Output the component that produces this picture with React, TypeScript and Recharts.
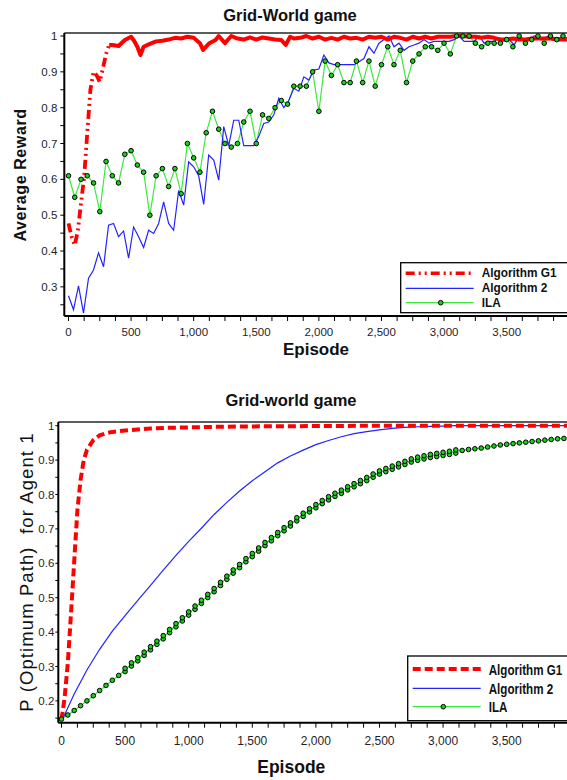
import React from 'react'
import { LineChart, Line, XAxis, YAxis, ReferenceLine } from 'recharts'

// ---- top chart: average reward per episode ----
const g1TopEpisodes = [
  0, 25, 50, 75, 100, 125, 150, 175, 200, 225, 250, 275, 300, 325, 350, 400, 450, 500, 525, 550,
  575, 600, 650, 700, 750, 800, 850, 900, 950, 1000, 1050, 1075, 1125, 1175, 1200, 1250, 1300, 1350,
  1400, 1450, 1500, 1550, 1600, 1650, 1700, 1735, 1770, 1800, 1850, 1900, 1950, 2000, 2050, 2100,
  2150, 2200, 2250, 2300, 2350, 2400, 2450, 2500, 2550, 2600, 2650, 2700, 2750, 2800, 2850, 2900,
  2950, 3000, 3050, 3100, 3150, 3200, 3250, 3300, 3350, 3400, 3450, 3500, 3550, 3600, 3650, 3700,
  3750, 3800, 3850, 3900, 3950, 4000,
]
const g1TopReward = [
  0.477, 0.44, 0.416, 0.458, 0.533, 0.607, 0.73, 0.85, 0.9, 0.89, 0.872, 0.91, 0.95, 0.975, 0.975,
  0.972, 0.989, 0.998, 0.986, 0.97, 0.947, 0.97, 0.978, 0.985, 0.987, 0.99, 0.995, 0.993, 0.998,
  0.995, 0.98, 0.961, 0.98, 0.989, 1.0, 0.98, 1.0, 0.993, 0.99, 0.996, 0.99, 0.996, 0.993, 0.99,
  0.989, 0.975, 0.998, 0.993, 0.995, 1.0, 0.993, 0.998, 0.99, 0.995, 0.99, 0.998, 0.993, 0.995,
  0.99, 0.998, 0.995, 0.998, 0.99, 0.998, 0.995, 0.99, 0.998, 0.993, 0.998, 0.993, 0.998, 0.998,
  0.998, 1.0, 1.0, 0.998, 0.998, 0.995, 0.998, 0.995, 0.99, 0.99, 0.993, 0.99, 0.99, 0.993, 0.993,
  0.993, 0.993, 0.99, 0.99, 0.99,
]
// Algorithm 2 sampled every 40 episodes
const alg2TopStep = 40
const alg2TopReward = [
  0.275, 0.236, 0.303, 0.227, 0.324, 0.347, 0.395, 0.356, 0.472, 0.477,
  0.44, 0.456, 0.38, 0.467, 0.44, 0.41, 0.458, 0.449, 0.477, 0.537,
  0.477, 0.458, 0.569, 0.528, 0.649, 0.635, 0.61, 0.53, 0.668, 0.654,
  0.598, 0.747, 0.694, 0.765, 0.765, 0.694, 0.694, 0.694, 0.72, 0.756,
  0.76, 0.78, 0.826, 0.8, 0.82, 0.854, 0.846, 0.886, 0.877, 0.905,
  0.908, 0.947, 0.925, 0.92, 0.92, 0.92, 0.92, 0.92, 0.928, 0.937,
  0.97, 0.952, 0.98, 0.99, 1.0, 0.97, 0.98, 0.96, 0.97, 0.975,
  0.98, 0.99, 0.98, 0.985, 0.985, 0.985, 0.985, 0.99, 1.0, 0.985,
  0.985, 0.985, 1.0, 0.98, 0.985, 0.985, 0.995, 0.99, 0.99, 0.975,
  1.0, 0.99, 0.99, 1.0, 0.995, 0.995, 1.0, 0.995, 0.995, 0.995, 0.995,
]
// ILA sampled every 50 episodes
const ilaTopStep = 50
const ilaTopReward = [
  0.61, 0.55, 0.6, 0.61, 0.59, 0.51, 0.65, 0.61, 0.59, 0.67,
  0.68, 0.64, 0.62, 0.5, 0.61, 0.63, 0.58, 0.63, 0.56, 0.7,
  0.66, 0.62, 0.73, 0.79, 0.74, 0.7, 0.69, 0.7, 0.76, 0.79,
  0.7, 0.78, 0.77, 0.8, 0.82, 0.81, 0.86, 0.86, 0.86, 0.9,
  0.79, 0.93, 0.89, 0.92, 0.87, 0.87, 0.93, 0.87, 0.93, 0.86,
  0.92, 0.97, 0.92, 0.96, 0.87, 0.93, 0.95, 0.97, 0.97, 0.96,
  0.98, 0.95, 1.0, 1.0, 1.0, 0.98, 0.97, 0.98, 0.98, 0.98,
  0.99, 0.97, 1.0, 0.98, 0.99, 1.0, 0.98, 1.0, 0.99, 1.0,
]

// ---- bottom chart: P(optimum path) for agent 1 ----
const g1BottomEpisodes = [
  0, 25, 50, 75, 100, 125, 150, 175, 200, 250, 300, 350, 400, 500, 600, 700, 850, 1000, 1250, 1500,
  2000, 2500, 3000, 3500, 4000,
]
const g1BottomProb = [
  0.145, 0.21, 0.31, 0.455, 0.605, 0.754, 0.842, 0.9, 0.93, 0.958, 0.972, 0.978, 0.982, 0.986,
  0.989, 0.992, 0.994, 0.995, 0.997, 0.998, 0.999, 1.0, 1.0, 1.0, 1.0,
]
// Algorithm 2 sampled every 100 episodes
const alg2BottomStep = 100
const alg2BottomProb = [
  0.14, 0.22, 0.29, 0.35, 0.403, 0.448, 0.492, 0.536, 0.58, 0.623,
  0.664, 0.702, 0.742, 0.777, 0.81, 0.84, 0.866, 0.892, 0.912, 0.929,
  0.945, 0.957, 0.968, 0.977, 0.983, 0.988, 0.992, 0.995, 0.997, 0.998,
  0.999, 1.0, 1.0, 1.0, 1.0, 1.0, 1.0, 1.0, 1.0, 1.0, 1.0,
]
const ilaBottomStep = 50
const ilaBottomProb = [
  0.147, 0.159, 0.172, 0.186, 0.2, 0.215, 0.23, 0.245, 0.26, 0.274,
  0.29, 0.306, 0.321, 0.337, 0.353, 0.369, 0.385, 0.403, 0.42, 0.437,
  0.454, 0.471, 0.488, 0.505, 0.522, 0.54, 0.558, 0.576, 0.592, 0.609,
  0.624, 0.64, 0.656, 0.67, 0.685, 0.699, 0.713, 0.728, 0.741, 0.754,
  0.766, 0.778, 0.789, 0.799, 0.808, 0.818, 0.827, 0.836, 0.845, 0.855,
  0.864, 0.871, 0.878, 0.885, 0.892, 0.899, 0.904, 0.908, 0.912, 0.915,
  0.918, 0.921, 0.925, 0.928, 0.931, 0.933, 0.935, 0.938, 0.941, 0.944,
  0.946, 0.948, 0.95, 0.952, 0.954, 0.956, 0.958, 0.96, 0.962, 0.963,
]

// axis ticks
const episodeTicks = [
  0, 125, 250, 375, 500, 625, 750, 875, 1000, 1125, 1250, 1375, 1500, 1625, 1750, 1875,
  2000, 2125, 2250, 2375, 2500, 2625, 2750, 2875, 3000, 3125, 3250, 3375, 3500, 3625, 3750, 3875,
]
const rewardTicks = [0.25, 0.3, 0.35, 0.4, 0.45, 0.5, 0.55, 0.6, 0.65, 0.7, 0.75, 0.8, 0.85, 0.9, 0.95, 1]
const probTicks = [0.15, 0.2, 0.25, 0.3, 0.35, 0.4, 0.45, 0.5, 0.55, 0.6, 0.65, 0.7, 0.75, 0.8, 0.85, 0.9, 0.95, 1]

const seriesNames = ['Algorithm G1', 'Algorithm 2', 'ILA']

const RED = '#ff0000'
const BLUE = '#2323ff'
const GREEN = '#3de83d'
const MARK = '#1ccf1c'
const FONT = 'Arial, "Liberation Sans", sans-serif'

const pairs = (eps: number[], vals: number[]) => eps.map((ep, i) => ({ ep, v: vals[i] }))
const stepped = (step: number, vals: number[]) => vals.map((v, i) => ({ ep: i * step, v }))

const g1Top = pairs(g1TopEpisodes, g1TopReward)
const g1TopRise = g1Top.filter((d) => d.ep <= 325)
const g1TopFlat = g1Top.filter((d) => d.ep >= 325)
const alg2Top = stepped(alg2TopStep, alg2TopReward)
const ilaTop = stepped(ilaTopStep, ilaTopReward)

const g1Bottom = pairs(g1BottomEpisodes, g1BottomProb)
const alg2Bottom = stepped(alg2BottomStep, alg2BottomProb)
const ilaBottom = stepped(ilaBottomStep, ilaBottomProb)

const fmtEp = (v: number) => (v % 500 === 0 ? v.toLocaleString('en-US') : '')
const fmtVal = (v: number) => {
  const r = Math.round(v * 100)
  if (r % 10 !== 0) return ''
  return r === 100 ? '1' : (r / 100).toFixed(1)
}

const tickStyle = { fontSize: 11.5, fill: '#1e1e2a', fontFamily: FONT }
const axisLine = { stroke: '#000', strokeWidth: 2 }

// ILA markers in the lower plot look doubled where the curve climbs fast
const DoubleDot = (props: any) => {
  const { cx, cy, payload, index } = props
  if (cx == null || cy == null) return <g key={`e-${index}`} />
  const doubled = payload.ep >= 500 && payload.ep <= 3100
  const c = { r: 2.3, fill: MARK, stroke: '#000', strokeWidth: 1 }
  if (!doubled) return <circle key={`d-${index}`} cx={cx} cy={cy} {...c} />
  return (
    <g key={`d-${index}`}>
      <circle cx={cx} cy={cy + 1.6} {...c} />
      <circle cx={cx} cy={cy - 1.6} {...c} />
    </g>
  )
}

function TopChart() {
  const yMax = 1.0084
  return (
    <LineChart width={570} height={360} margin={{ top: 33, right: 2, bottom: 14, left: 0 }}>
      <XAxis
        type="number"
        dataKey="ep"
        domain={[-33.5, 3990]}
        allowDataOverflow
        ticks={episodeTicks}
        interval={0}
        tickFormatter={fmtEp}
        height={30}
        axisLine={axisLine}
        tickLine={{ stroke: '#000' }}
        tickSize={5}
        tickMargin={7}
        tick={tickStyle}
      />
      <YAxis
        type="number"
        domain={[0.2187, yMax]}
        allowDataOverflow
        ticks={rewardTicks}
        interval={0}
        tickFormatter={fmtVal}
        width={64.3}
        axisLine={axisLine}
        tickLine={{ stroke: '#000' }}
        tickSize={4}
        tickMargin={3}
        tick={tickStyle}
      />
      <ReferenceLine y={yMax} stroke="#5c5c5c" strokeWidth={2} ifOverflow="visible" />
      <Line
        data={ilaTop}
        dataKey="v"
        stroke={GREEN}
        strokeWidth={1.2}
        dot={{ r: 2.3, fill: MARK, stroke: '#000', strokeWidth: 1 }}
        activeDot={false}
        isAnimationActive={false}
      />
      <Line
        data={alg2Top}
        dataKey="v"
        stroke={BLUE}
        strokeWidth={1.2}
        dot={false}
        activeDot={false}
        isAnimationActive={false}
      />
      <Line
        data={g1TopRise}
        dataKey="v"
        stroke={RED}
        strokeWidth={3.8}
        strokeDasharray="9 4 2 4 2 4"
        dot={false}
        activeDot={false}
        isAnimationActive={false}
      />
      <Line
        data={g1TopFlat}
        dataKey="v"
        stroke={RED}
        strokeWidth={4}
        strokeLinejoin="round"
        dot={false}
        activeDot={false}
        isAnimationActive={false}
      />
    </LineChart>
  )
}

function BottomChart() {
  const yMax = 1.0108
  return (
    <LineChart width={570} height={390} margin={{ top: 42, right: 2, bottom: 17.3, left: 0 }}>
      <XAxis
        type="number"
        dataKey="ep"
        domain={[-25, 3982]}
        allowDataOverflow
        ticks={episodeTicks}
        interval={0}
        tickFormatter={fmtEp}
        height={30}
        axisLine={axisLine}
        tickLine={{ stroke: '#000' }}
        tickSize={5}
        tickMargin={9}
        tick={{ ...tickStyle, fontSize: 12 }}
      />
      <YAxis
        type="number"
        domain={[0.1366, yMax]}
        allowDataOverflow
        ticks={probTicks}
        interval={0}
        tickFormatter={fmtVal}
        width={58.3}
        axisLine={axisLine}
        tickLine={{ stroke: '#000' }}
        tickSize={3}
        tickMargin={1}
        tick={tickStyle}
      />
      <ReferenceLine y={yMax} stroke="#5c5c5c" strokeWidth={2} ifOverflow="visible" />
      <Line
        data={ilaBottom}
        dataKey="v"
        stroke={GREEN}
        strokeWidth={1.2}
        dot={DoubleDot}
        activeDot={false}
        isAnimationActive={false}
      />
      <Line
        data={alg2Bottom}
        dataKey="v"
        stroke={BLUE}
        strokeWidth={1.2}
        dot={false}
        activeDot={false}
        isAnimationActive={false}
      />
      <Line
        data={g1Bottom}
        dataKey="v"
        stroke={RED}
        strokeWidth={4}
        strokeDasharray="8 4"
        dot={false}
        activeDot={false}
        isAnimationActive={false}
      />
    </LineChart>
  )
}

interface LegendBoxProps {
  x: number
  y: number
  w: number
  h: number
  rows: number[]
  baselines: number[]
  redDash: string
  redWidth: number
  markX: number
  fontSize: number
  squeeze: number
}

function LegendBox({ x, y, w, h, rows, baselines, redDash, redWidth, markX, fontSize, squeeze }: LegendBoxProps) {
  const x1 = x + 5
  const x2 = x + 73
  const tx = x + 81
  return (
    <g>
      <rect x={x} y={y} width={w} height={h} fill="#fff" stroke="#000" strokeWidth={1.3} />
      <line x1={x1} x2={x2} y1={rows[0]} y2={rows[0]} stroke={RED} strokeWidth={redWidth} strokeDasharray={redDash} />
      <line x1={x1} x2={x2} y1={rows[1]} y2={rows[1]} stroke={BLUE} strokeWidth={1.3} />
      <line x1={x1} x2={x2} y1={rows[2]} y2={rows[2]} stroke={GREEN} strokeWidth={1.3} />
      <circle cx={markX} cy={rows[2]} r={2.3} fill={MARK} stroke="#000" strokeWidth={1} />
      {seriesNames.map((n, i) => (
        <text
          key={n}
          transform={`translate(${tx} ${baselines[i]}) scale(${squeeze} 1)`}
          fontSize={fontSize}
          fontWeight="bold"
          fill="#111"
        >
          {n}
        </text>
      ))}
    </g>
  )
}

export default function App() {
  return (
    <div
      style={{
        position: 'absolute',
        left: 0,
        top: 0,
        width: 567,
        height: 780,
        overflow: 'hidden',
        background: '#fff',
        fontFamily: FONT,
      }}
    >
      <div style={{ position: 'absolute', left: 0, top: 0 }}>
        <TopChart />
      </div>
      <div style={{ position: 'absolute', left: 0, top: 380 }}>
        <BottomChart />
      </div>
      <svg
        width={567}
        height={780}
        style={{ position: 'absolute', left: 0, top: 0, pointerEvents: 'none', fontFamily: FONT }}
      >
        <text x={290} y={20.7} textAnchor="middle" fontSize={16.5} fontWeight="bold" fill="#111">
          Grid-World game
        </text>
        <text x={316} y={355} textAnchor="middle" fontSize={17} fontWeight="bold" fill="#111">
          Episode
        </text>
        <text
          transform="translate(26 175) rotate(-90)"
          textAnchor="middle"
          fontSize={16}
          fontWeight="bold"
          letterSpacing={0.6}
          fill="#111"
        >
          Average Reward
        </text>
        <LegendBox
          x={400.7}
          y={262.7}
          w={170}
          h={50}
          rows={[273.3, 288.3, 302.7]}
          baselines={[277, 292, 306.7]}
          redDash="9 4 2 4 2 4"
          redWidth={3.5}
          markX={440.7}
          fontSize={13}
          squeeze={0.91}
        />

        <text x={291} y={406} textAnchor="middle" fontSize={16.5} fontWeight="bold" fill="#111">
          Grid-world game
        </text>
        <text x={291.3} y={773.3} textAnchor="middle" fontSize={17.5} fontWeight="bold" fill="#111">
          Episode
        </text>
        <text
          transform="translate(33.3 572) rotate(-90)"
          textAnchor="middle"
          fontSize={18.5}
          letterSpacing={1.1}
          fill="#111"
          style={{ whiteSpace: 'pre' }}
        >
          {'P (Optimum Path)  for Agent 1'}
        </text>
        <LegendBox
          x={407.7}
          y={656}
          w={165}
          h={64.7}
          rows={[669, 688.3, 706.7]}
          baselines={[675, 693.5, 712]}
          redDash="8 4"
          redWidth={4}
          markX={443.3}
          fontSize={14.5}
          squeeze={0.8}
        />
      </svg>
    </div>
  )
}
